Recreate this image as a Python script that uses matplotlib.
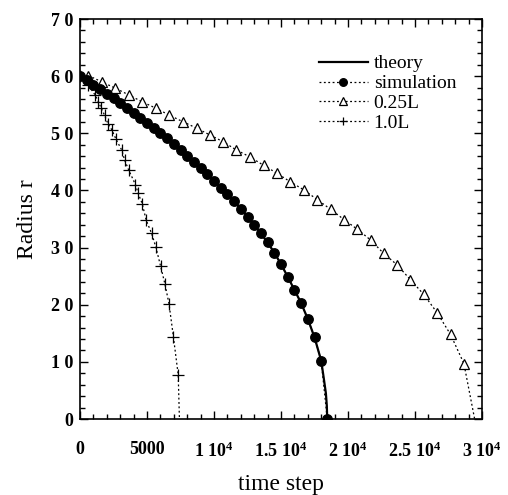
import matplotlib
matplotlib.use("Agg")
import matplotlib.pyplot as plt
from matplotlib.ticker import MultipleLocator, FixedLocator, FixedFormatter

plt.rcParams['font.family'] = ['Liberation Serif', 'DejaVu Serif']
plt.rcParams['mathtext.default'] = 'regular'

# ---------------- data ----------------
sim_t = [0, 500, 1000, 1500, 2000, 2500, 3000, 3500, 4000, 4500, 5000, 5500,
         6000, 6500, 7000, 7500, 8000, 8500, 9000, 9500, 10000, 10500, 11000,
         11500, 12000, 12500, 13000, 13500, 14000, 14500, 15000, 15500, 16000,
         16500, 17000, 17500, 18000, 18450]
sim_r = [60.0, 59.3, 58.5, 57.7, 56.9, 56.1, 55.3, 54.4, 53.6, 52.7, 51.8, 50.9,
         50.0, 49.1, 48.1, 47.1, 46.1, 45.0, 43.9, 42.8, 41.7, 40.5, 39.3,
         38.1, 36.8, 35.4, 34.0, 32.5, 30.9, 29.1, 27.1, 24.9, 22.6,
         20.3, 17.5, 14.3, 10.2, 0.0]

theory_t = [0, 1000, 2000, 3000, 4000, 5000, 6000, 7000, 8000, 9000, 10000,
            11000, 12000, 13000, 14000, 14500, 15000, 15500, 16000, 16500,
            17000, 17500, 18000, 18200, 18350, 18420, 18450]
theory_r = [60.0, 58.5, 56.9, 55.3, 53.6, 51.8, 50.0, 48.1, 46.1, 43.9, 41.7,
            39.3, 36.8, 34.0, 30.9, 29.1, 27.1, 24.9, 22.6, 20.3,
            17.5, 14.3, 10.2, 7.0, 4.5, 2.3, 0.0]

q_t = [630, 1630, 2630, 3650, 4650, 5650, 6650, 7700, 8700, 9700, 10700,
       11650, 12650, 13700, 14700, 15700, 16700, 17700, 18700, 19700, 20700,
       21700, 22650, 23650, 24650, 25650, 26650, 27650, 28650, 29450]
q_r = [60.1, 59.0, 57.9, 56.7, 55.5, 54.4, 53.2, 52.0, 50.9, 49.7, 48.5,
       47.1, 45.9, 44.4, 43.0, 41.5, 40.1, 38.4, 36.7, 34.9, 33.2,
       31.3, 29.0, 27.0, 24.4, 21.8, 18.6, 14.8, 9.7, 0.0]

f_t = [0, 630, 1130, 1380, 1580, 1830, 2080, 2380, 2680, 3130, 3330, 3630,
       4140, 4340, 4640, 4940, 5340, 5660, 6020, 6330, 6640, 6970, 7330, 7420]
f_r = [60.0, 58.4, 56.7, 55.5, 54.4, 53.2, 51.7, 50.6, 49.0, 47.0, 45.3, 43.6,
       41.0, 39.5, 37.7, 34.8, 32.5, 30.1, 26.7, 23.7, 20.2, 14.4, 7.7, 0.0]

x_ticks = [0, 5000, 10000, 15000, 20000, 25000, 30000]
x_labels = ['0', '5000', '1 10$^{4}$', '1.5 10$^{4}$', '2 10$^{4}$',
            '2.5 10$^{4}$', '3 10$^{4}$']
y_ticks = [0, 10, 20, 30, 40, 50, 60, 70]
y_labels = ['0', '1 0', '2 0', '3 0', '4 0', '5 0', '6 0', '7 0']

# ---------------- figure ----------------
fig = plt.figure(figsize=(5.08, 4.95), dpi=100)
ax = fig.add_axes([80 / 508, 1 - 419 / 495, 402 / 508, 400 / 495])

dot = (0, (1.5, 2.0))
ax.plot(q_t, q_r, color='black', lw=0.9, ls=dot, marker='^', ms=6.5,
        mfc='white', mec='black', mew=0.9, markevery=slice(0, len(q_t) - 1),
        label='0.25L', zorder=2)
ax.plot(f_t, f_r, color='black', lw=0.9, ls=dot, marker='+', ms=8,
        mew=0.9, markevery=slice(0, len(f_t) - 1), label='1.0L', zorder=2)
ax.plot(theory_t, theory_r, color='black', lw=1.6, ls='-', label='theory',
        zorder=3)
ax.plot(sim_t, sim_r, color='black', lw=0.9, ls=dot, marker='o', ms=6.8,
        mfc='black', mec='black', label='simulation', zorder=4)

ax.set_xlim(0, 30000)
ax.set_ylim(0, 70)

ax.xaxis.set_major_locator(FixedLocator(x_ticks))
ax.xaxis.set_major_formatter(FixedFormatter(x_labels))
ax.xaxis.set_minor_locator(MultipleLocator(1000))
ax.yaxis.set_major_locator(FixedLocator(y_ticks))
ax.yaxis.set_major_formatter(FixedFormatter(y_labels))
ax.yaxis.set_minor_locator(MultipleLocator(2))

ax.tick_params(which='both', direction='in', top=True, right=True,
               color='black', width=1.0)
ax.tick_params(which='major', length=6)
ax.tick_params(which='minor', length=3.5)
ax.tick_params(axis='x', which='major', pad=16, labelsize=13)
ax.tick_params(axis='y', which='major', pad=5, labelsize=13)
for lab in ax.get_xticklabels() + ax.get_yticklabels():
    lab.set_fontweight('bold')

for sp in ax.spines.values():
    sp.set_linewidth(1.2)

ax.set_xlabel('time step', fontsize=17)
ax.set_ylabel('Radius r', fontsize=17)
ax.xaxis.set_label_coords(0.5, -0.138)
ax.yaxis.set_label_coords(-0.105, 0.5)

handles, labels = ax.get_legend_handles_labels()
order = [labels.index(k) for k in ['theory', 'simulation', '0.25L', '1.0L']]
leg = ax.legend([handles[i] for i in order], [labels[i] for i in order],
                loc='upper right', bbox_to_anchor=(0.955, 0.93),
                frameon=False, fontsize=14, handlelength=2.5,
                handletextpad=0.3, labelspacing=0.12, borderaxespad=0,
                markerscale=0.8)

fig.savefig('out.png', dpi=100)
